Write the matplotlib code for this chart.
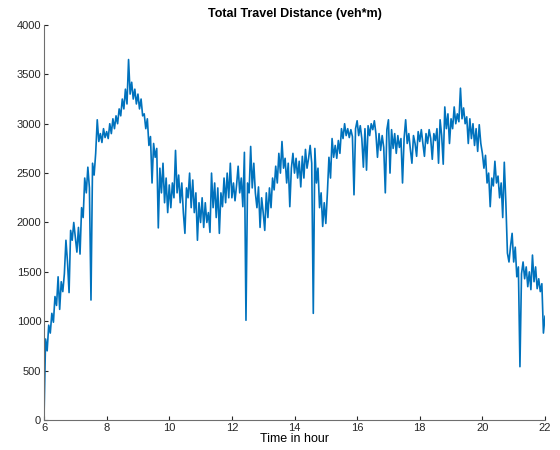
import matplotlib
matplotlib.use("Agg")
import matplotlib.pyplot as plt
import numpy as np

plt.rcParams['font.family'] = ['Liberation Sans', 'DejaVu Sans']

# total travel distance, sampled every 3 minutes from 6:00 to 22:00
dist_06 = [30, 820, 700, 960, 880, 1080, 990, 1250, 1160, 1450,
           1120, 1400, 1300, 1480, 1820, 1600, 1290, 1920, 1820, 2000]
dist_07 = [1850, 1700, 1950, 1680, 2150, 2050, 2450, 2300, 2560, 2350,
           1215, 2600, 2480, 2700, 3040, 2820, 2900, 2810, 2950, 2860]
dist_08 = [2920, 2850, 3000, 2900, 3050, 2950, 3080, 3000, 3150, 3080,
           3250, 3150, 3350, 3200, 3650, 3300, 3420, 3250, 3350, 3200]
dist_09 = [3300, 3150, 3250, 3080, 3100, 2950, 3050, 2780, 2870, 2400,
           2800, 2660, 2750, 1945, 2550, 2300, 2600, 2200, 2450, 2100]
dist_10 = [2380, 2150, 2400, 2250, 2730, 2300, 2480, 2200, 2400, 2100,
           1890, 2350, 2250, 2500, 2150, 2430, 2100, 2300, 1820, 2200]
dist_11 = [2000, 2250, 1950, 2200, 2000, 2100, 1900, 2500, 2150, 2400,
           2050, 2350, 1890, 2300, 2160, 2450, 2200, 2500, 2250, 2600]
dist_12 = [2250, 2400, 2220, 2380, 2570, 2300, 2450, 2160, 2710, 1010,
           2400, 2300, 2770, 2350, 2600, 2300, 2150, 2360, 1950, 2250]
dist_13 = [2100, 1920, 2300, 2050, 2350, 2150, 2450, 2330, 2570, 2400,
           2700, 2500, 2820, 2550, 2650, 2400, 2600, 2160, 2550, 2700]
dist_14 = [2500, 2650, 2450, 2620, 2360, 2670, 2450, 2740, 2550, 2650,
           2780, 2600, 1080, 2750, 2400, 2550, 2150, 2300, 1960, 2200]
dist_15 = [1990, 2300, 2660, 2450, 2850, 2660, 2780, 2650, 2830, 2700,
           2950, 2850, 3000, 2880, 2950, 2860, 2940, 2870, 2280, 2950]
dist_16 = [3030, 2880, 2980, 2850, 2560, 2950, 2530, 2980, 2880, 3000,
           2940, 3030, 2900, 2660, 2900, 2730, 2880, 2760, 2300, 2940]
dist_17 = [3040, 2500, 2940, 2750, 2900, 2700, 2880, 2760, 2850, 2400,
           2850, 3040, 2800, 2900, 2740, 2600, 2880, 2800, 2670, 2920]
dist_18 = [2820, 2940, 2800, 2670, 2900, 2800, 2940, 2850, 2640, 2900,
           2830, 2950, 2600, 3040, 2880, 2590, 3170, 2950, 3100, 2800]
dist_19 = [3050, 2950, 3170, 3000, 3100, 3020, 3360, 3050, 3160, 3000,
           3070, 2800, 3050, 2850, 3000, 2780, 2950, 2720, 2990, 2800]
dist_20 = [2700, 2550, 2680, 2400, 2500, 2160, 2450, 2370, 2620, 2400,
           2470, 2250, 2400, 2050, 2610, 2200, 1690, 1600, 1760, 1890]
dist_21 = [1600, 1750, 1450, 1550, 540, 1480, 1600, 1430, 1550, 1350,
           1500, 1320, 1670, 1400, 1550, 1330, 1430, 1300, 1380, 880]
dist_22 = [1050]

distance = np.array(dist_06 + dist_07 + dist_08 + dist_09 + dist_10 + dist_11
                    + dist_12 + dist_13 + dist_14 + dist_15 + dist_16 + dist_17
                    + dist_18 + dist_19 + dist_20 + dist_21 + dist_22)
hours = np.linspace(6, 22, len(distance))

fig = plt.figure(figsize=(5.6, 4.5), dpi=100)
ax = fig.add_axes([0.0786, 0.0667, 0.8946, 0.8778])
ax.plot(hours, distance, color='#0072BD', linewidth=1.2)

ax.set_xlim(6, 22)
ax.set_ylim(0, 4000)
ax.set_xticks(np.arange(6, 23, 2))
ax.set_yticks(np.arange(0, 4001, 500))
ax.tick_params(direction='in', length=3, width=0.8, labelsize=8,
               colors='#262626', pad=2)
for side in ['top', 'right']:
    ax.spines[side].set_visible(False)
for side in ['left', 'bottom']:
    ax.spines[side].set_color('#6e6e6e')
    ax.spines[side].set_linewidth(0.8)

ax.set_title('Total Travel Distance (veh*m)', fontsize=9, fontweight='bold', pad=6)
ax.set_xlabel('Time in hour', fontsize=9, labelpad=0)

fig.savefig('out.png', dpi=100)
